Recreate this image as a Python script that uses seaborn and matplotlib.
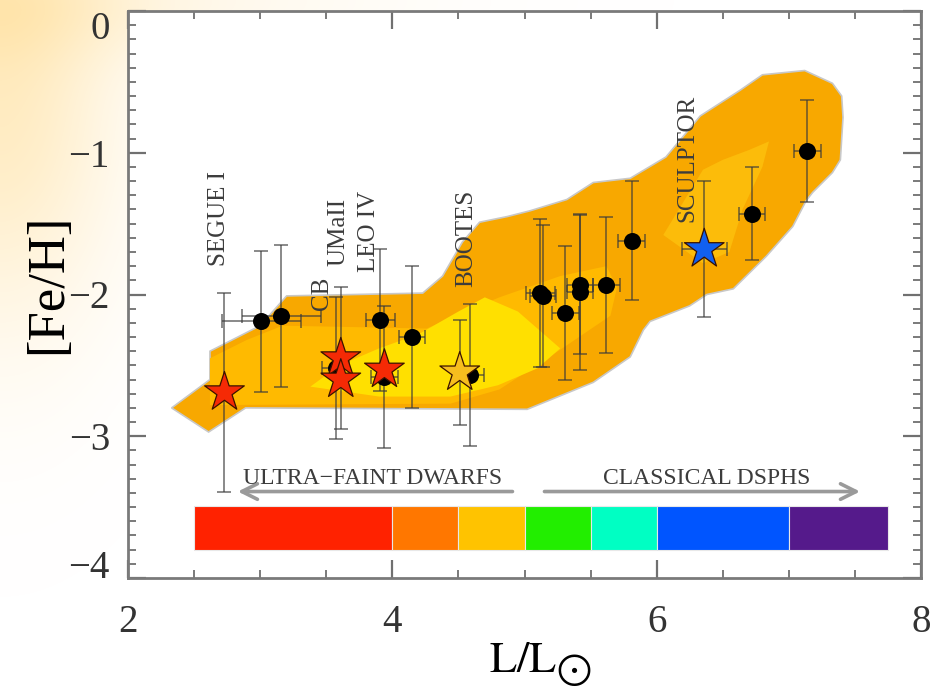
import numpy as np
import pandas as pd
import matplotlib
matplotlib.use("Agg")
import matplotlib.pyplot as plt
import seaborn as sns

# ---------------- data ----------------
# black points: luminosity, [Fe/H], errors
pt_x = [3.01, 3.16, 3.91, 4.15, 3.57, 3.94, 4.59, 5.12, 5.14, 5.31, 5.42, 5.42, 5.62, 5.81, 6.72, 7.14]
pt_y = [-2.19, -2.15, -2.18, -2.30, -2.52, -2.58, -2.57, -1.99, -2.01, -2.13, -1.93, -1.98, -1.93, -1.62, -1.43, -0.99]
pt_xerr = [0.30, 0.30, 0.11, 0.10, 0.10, 0.10, 0.10, 0.11, 0.10, 0.10, 0.10, 0.10, 0.10, 0.10, 0.10, 0.10]
pt_yerr = [0.50, 0.50, 0.50, 0.50, 0.50, 0.50, 0.50, 0.52, 0.50, 0.47, 0.49, 0.55, 0.48, 0.42, 0.33, 0.36]

# highlighted galaxies (stars)
gal_names = ["SEGUE I", "UMaII", "CB", "LEO IV", "BOOTES", "SCULPTOR"]
gal_x = [2.73, 3.61, 3.61, 3.94, 4.51, 6.36]
gal_y = [-2.69, -2.45, -2.60, -2.53, -2.55, -1.68]
gal_xerr = [0.0, 0.0, 0.0, 0.0, 0.0, 0.17]
gal_yerr = [0.70, 0.50, 0.0, 0.0, 0.37, 0.48]
gal_colors = ["#F52A05", "#F52A05", "#F52A05", "#F52A05", "#F7BE1E", "#1160F0"]

# galaxy labels (x centre, y of label start)
lab_names = ["SEGUE I", "CB", "UMaII", "LEO IV", "BOOTES", "SCULPTOR"]
lab_x = [2.69, 3.47, 3.59, 3.82, 4.56, 6.23]
lab_y = [-1.80, -2.11, -1.80, -1.84, -1.95, -1.49]

# density contours (outer, middle, inner, upper patch)
outer_x = [2.33, 2.62, 2.62, 3.00, 3.20, 4.23, 4.38, 4.53, 4.66, 4.87, 5.04, 5.32, 5.52, 5.80, 6.07,
           6.33, 6.63, 6.80, 7.12, 7.33, 7.40, 7.41, 7.39, 7.33, 7.18, 7.13, 7.03, 6.83, 6.58,
           6.38, 6.25, 5.95, 5.90, 5.80, 5.52, 5.02, 2.89, 2.61]
outer_y = [-2.80, -2.60, -2.40, -2.22, -2.01, -1.99, -1.87, -1.63, -1.49, -1.45, -1.41, -1.33, -1.21, -1.18, -1.03,
           -0.74, -0.56, -0.45, -0.42, -0.51, -0.60, -0.75, -1.05, -1.14, -1.28, -1.34, -1.52, -1.73, -1.96,
           -2.00, -2.08, -2.19, -2.25, -2.44, -2.62, -2.81, -2.80, -2.97]
mid_x = [2.62, 2.62, 2.90, 3.17, 4.26, 4.60, 4.81, 5.27, 5.62, 5.70, 5.65, 5.27, 4.81, 4.44]
mid_y = [-2.78, -2.45, -2.32, -2.22, -2.24, -2.10, -2.02, -1.87, -1.80, -1.95, -2.15, -2.39, -2.67, -2.77]
inner_x = [3.38, 3.60, 3.90, 4.20, 4.50, 4.70, 4.95, 5.27, 5.10, 4.80, 4.44, 3.90]
inner_y = [-2.65, -2.50, -2.38, -2.28, -2.12, -2.02, -2.12, -2.38, -2.52, -2.64, -2.72, -2.72]
patch_x = [6.05, 6.35, 6.50, 6.70, 6.85, 6.80, 6.65, 6.55, 6.35]
patch_y = [-1.58, -1.12, -1.05, -0.98, -0.92, -1.10, -1.40, -1.70, -1.78]

# luminosity colour key
key_edges = [2.5, 4.0, 4.5, 5.0, 5.5, 6.0, 7.0, 7.75]
key_colors = ["#FF2200", "#FF7700", "#FFC300", "#22EE00", "#00FFC3", "#0055FF", "#551A8B"]

x_ticks = [2, 4, 6, 8]
y_ticks = [0, -1, -2, -3, -4]

# ---------------- style ----------------
sns.set_style("ticks")
plt.rcParams["font.family"] = ["Liberation Serif", "DejaVu Serif"]
plt.rcParams["mathtext.fontset"] = "stix"

fig = plt.figure(figsize=(9.47, 6.99), dpi=100)

# warm glow in the top-left corner of the figure
bg = fig.add_axes([0, 0, 1, 1], zorder=-5)
gy, gx = np.mgrid[0:699, 0:947]
alpha = 0.50 * np.exp(-((gx / 115.0) ** 2 + ((gy - 90) / 230.0) ** 2)) \
    + 0.25 * np.exp(-((gx / 330.0) ** 2 + (gy / 60.0) ** 2))
alpha = np.clip(alpha, 0, 1)
img = np.ones((699, 947, 4))
img[..., 0] = 1.0
img[..., 1] = 0.85
img[..., 2] = 0.52
img[..., 3] = alpha
bg.imshow(img, aspect="auto", extent=(0, 1, 0, 1))
bg.set_xlim(0, 1); bg.set_ylim(0, 1)
bg.axis("off")

ax = fig.add_axes([128 / 947, 1 - 578 / 699, (921 - 128) / 947, (578 - 11) / 699])
ax.set_facecolor("white")

# contours
ax.fill(outer_x, outer_y, color="#F8A800", ec="#C8C8C8", lw=1.2, zorder=1)
ax.fill(mid_x, mid_y, color="#FFBA00", lw=0, zorder=2)
ax.fill(patch_x, patch_y, color="#FCBC0A", lw=0, zorder=2)
ax.fill(inner_x, inner_y, color="#FFE000", lw=0, zorder=3)

# error bars
ax.errorbar(pt_x, pt_y, xerr=pt_xerr, yerr=pt_yerr, fmt="none", ecolor="#3A3A3A",
            alpha=0.6, elinewidth=1.4, capsize=5, capthick=1.4, zorder=4)
ax.errorbar(gal_x, gal_y, xerr=gal_xerr, yerr=gal_yerr, fmt="none", ecolor="#3A3A3A",
            alpha=0.6, elinewidth=1.4, capsize=5, capthick=1.4, zorder=4)

# black points
pts = pd.DataFrame({"L": pt_x, "FeH": pt_y})
sns.scatterplot(data=pts, x="L", y="FeH", color="black", s=150, edgecolor="black",
                linewidth=0, ax=ax, zorder=5, legend=False)

# stars
gals = pd.DataFrame({"L": gal_x, "FeH": gal_y, "name": gal_names})
sns.scatterplot(data=gals, x="L", y="FeH", hue="name", palette=dict(zip(gal_names, gal_colors)),
                marker="*", s=900, edgecolor="#3A1200", linewidth=0.9, ax=ax, zorder=6, legend=False)

# galaxy labels
for n, x, y in zip(lab_names, lab_x, lab_y):
    ax.text(x, y, n, rotation=90, ha="center", va="bottom", fontsize=18, color="#3C3C3C", zorder=7)

# luminosity key
lefts = key_edges[:-1]
widths = np.diff(key_edges)
ax.barh(y=-3.645, width=widths, left=lefts, height=0.31, color=key_colors,
        edgecolor="#E8E8E8", linewidth=0.8, zorder=3)

# arrows and group labels
ax.annotate("", xy=(2.81, -3.39), xytext=(4.93, -3.39),
            arrowprops=dict(arrowstyle="->", color="#9A9A9A", lw=2.6, mutation_scale=28))
ax.annotate("", xy=(7.56, -3.39), xytext=(5.13, -3.39),
            arrowprops=dict(arrowstyle="->", color="#9A9A9A", lw=2.6, mutation_scale=28))
ax.text(3.85, -3.30, "ULTRA\u2212FAINT DWARFS", ha="center", va="center", fontsize=17, color="#3C3C3C")
ax.text(6.38, -3.30, "CLASSICAL DSPHS", ha="center", va="center", fontsize=17, color="#3C3C3C")

# axes
ax.set_xlim(2, 8)
ax.set_ylim(-4, 0)
ax.set_xticks(x_ticks)
ax.set_xticklabels([str(t) for t in x_ticks])
ax.set_yticks(y_ticks)
ax.set_yticklabels(["0" if t == 0 else "\u2212" + str(abs(t)) for t in y_ticks])
ax.xaxis.set_minor_locator(matplotlib.ticker.MultipleLocator(0.5))
ax.yaxis.set_minor_locator(matplotlib.ticker.MultipleLocator(0.1))
ax.tick_params(which="both", direction="in", top=True, right=True, color="#707070")
ax.tick_params(which="major", length=13, width=1.6, labelsize=28, labelcolor="#333333")
ax.tick_params(which="minor", length=6, width=1.3)
ax.tick_params(axis="x", which="major", pad=19)
ax.tick_params(axis="y", which="major", pad=13)
for lbl in ax.get_yticklabels():
    if lbl.get_text() == "0":
        lbl.set_verticalalignment("top")
    elif lbl.get_text() == "\u22124":
        lbl.set_verticalalignment("baseline")
for s in ax.spines.values():
    s.set_color("#7A7A7A")
    s.set_linewidth(2.0)

ax.set_xlabel(r"$\mathrm{L/L}_{\bigodot}$", fontsize=32, color="black")
ax.xaxis.set_label_coords(0.52, -0.11)
ax.set_ylabel("[Fe/H]", fontsize=38, color="black")
ax.yaxis.set_label_coords(-0.071, 0.518)

fig.savefig("out.png", dpi=100)
